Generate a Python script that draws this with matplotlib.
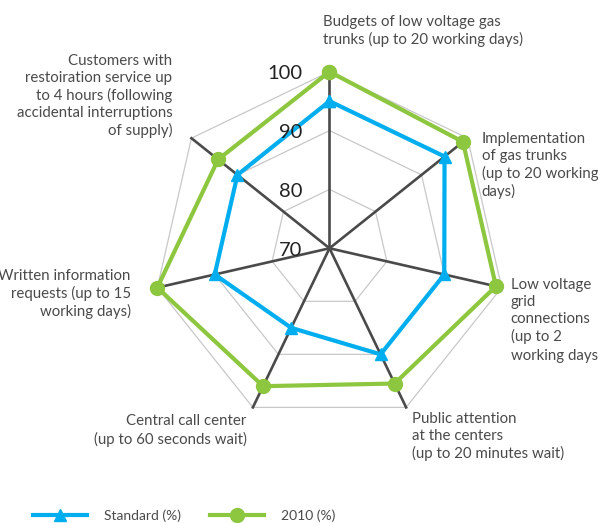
import numpy as np
import matplotlib.pyplot as plt

plt.rcParams['font.family'] = ['Lato', 'DejaVu Sans']

categories = [
    'Budgets of low voltage gas\ntrunks (up to 20 working days)',
    'Implementation\nof gas trunks\n(up to 20 working\ndays)',
    'Low voltage\ngrid\nconnections\n(up to 2\nworking days)',
    'Public attention\nat the centers\n(up to 20 minutes wait)',
    'Central call center\n(up to 60 seconds wait)',
    'Written information\nrequests (up to 15\nworking days)',
    'Customers with\nrestoiration service up\nto 4 hours (following\naccidental interruptions\nof supply)',
]
standard = [95, 95, 90, 90, 85, 90, 90]
y2010 = [100, 99, 99, 95.5, 96, 100, 94.2]
ticks = [70, 80, 90, 100]

W, H = 598, 523
BLUE = '#00aeef'
GREEN = '#8dc63f'
TXT = '#4a4a4a'

fig = plt.figure(figsize=(W / 100, H / 100), dpi=100)
ax = fig.add_axes([0.2557, 0.1876, 0.5906, 0.6753], polar=True)
ax.set_theta_zero_location('N')
ax.set_theta_direction(-1)
ax.set_ylim(70, 100)
ax.axis('off')

n = len(categories)
angles = np.linspace(0, 2 * np.pi, n, endpoint=False)
closed = np.append(angles, angles[0])

# polygon grid rings
for lv in ticks[1:]:
    ax.plot(closed, [lv] * (n + 1), color='#c8c8c8', lw=0.9, zorder=1, clip_on=False)
# spokes
for a in angles:
    ax.plot([a, a], [70, 100], color='#4a4a4a', lw=1.9, zorder=2, clip_on=False)

ax.plot(closed, y2010 + y2010[:1], color=GREEN, lw=3, marker='o', ms=10,
        zorder=3, clip_on=False, label='2010 (%)')
ax.plot(closed, standard + standard[:1], color=BLUE, lw=3, marker='^', ms=8,
        zorder=4, clip_on=False, label='Standard (%)')

for t in ticks:
    ax.annotate(str(t), xy=(0, t), xytext=(-27, -2), textcoords='offset pixels',
                ha='right', va='center', fontsize=14.5, color='#222222', zorder=10)


def fx(x):
    return x / W


def fy(y):
    return 1 - y / H


label_pos = [
    (322.7, 31, 'left'),
    (481.7, 165.5, 'left'),
    (510.7, 320.5, 'left'),
    (412.3, 436.3, 'left'),
    (246.5, 430.5, 'right'),
    (130.7, 294, 'right'),
    (172.3, 96, 'right'),
]
for lab, (x, y, ha) in zip(categories, label_pos):
    fig.text(fx(x), fy(y), lab, ha=ha, va='center', multialignment=ha,
             fontsize=10.8, color=TXT, linespacing=1.27)

handles, labels = ax.get_legend_handles_labels()
fig.legend(handles[::-1], labels[::-1], loc='center left',
           bbox_to_anchor=(fx(33), fy(516)), ncol=2, frameon=False,
           borderpad=0, borderaxespad=0, handlelength=3.9, handletextpad=1.2,
           columnspacing=2.1, fontsize=10, labelcolor=TXT)

fig.savefig('out.png', dpi=100)
